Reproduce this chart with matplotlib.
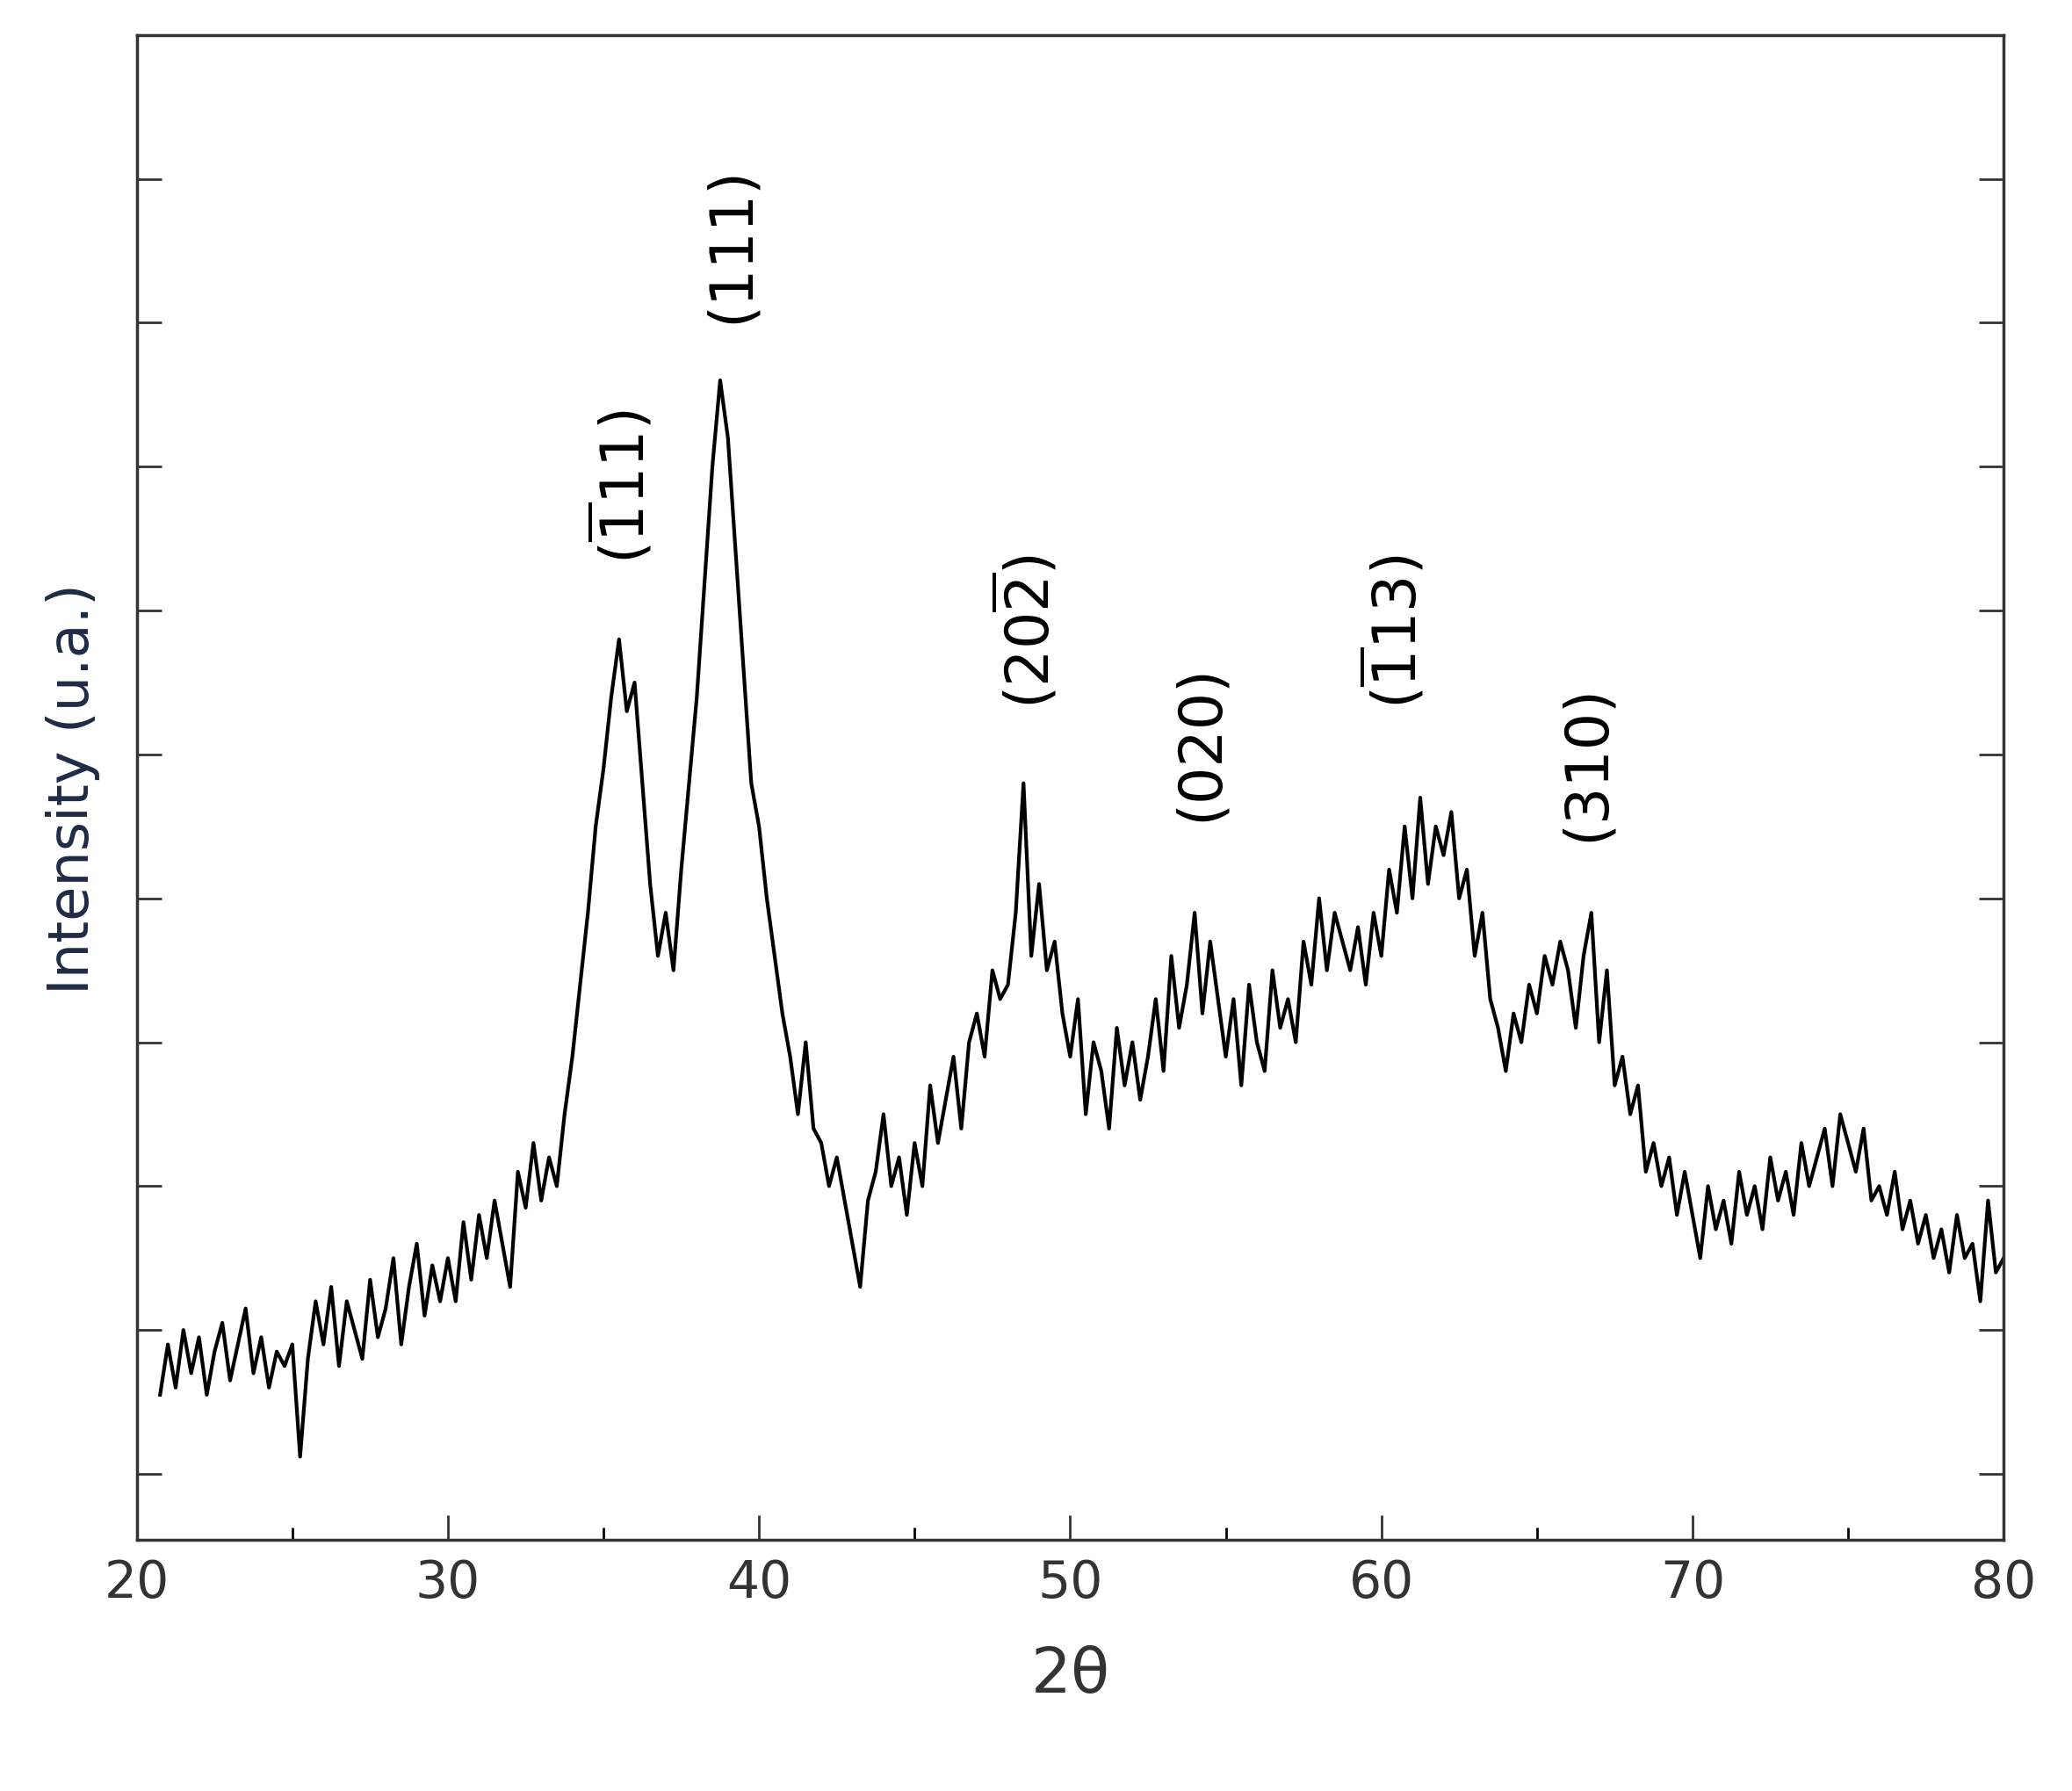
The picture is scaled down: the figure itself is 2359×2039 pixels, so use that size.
import numpy as np
import matplotlib
matplotlib.use('Agg')
import matplotlib.pyplot as plt

plt.rcParams['mathtext.fontset'] = 'dejavusans'

# 2theta grid, 0.25 deg step, and intensity (arb. units)
two_theta = np.arange(20.75, 80.01, 0.25)
intensity = [
    1.55,
    1.9, 1.6, 2.0, 1.7,   1.95, 1.55, 1.85, 2.05,  1.65, 1.9, 2.15, 1.7,
    1.95, 1.6, 1.85, 1.75, 1.9, 1.12, 1.8, 2.2,    1.9, 2.3, 1.75, 2.2,
    2.0, 1.8, 2.35, 1.95,  2.15, 2.5, 1.9, 2.3,    2.6, 2.1, 2.45, 2.2,
    2.5, 2.2, 2.75, 2.35,  2.8, 2.5, 2.9, 2.6,     2.3, 3.1, 2.85, 3.3,
    2.9, 3.2, 3.0, 3.5,    3.9, 4.4, 4.9, 5.5,     5.9, 6.4, 6.8, 6.3,
    6.5, 5.8, 5.1, 4.6,    4.9, 4.5, 5.2, 5.8,     6.4, 7.2, 8.0, 8.6,
    8.2, 7.4, 6.6, 5.8,    5.5, 5.0, 4.6, 4.2,     3.9, 3.5, 4.0, 3.4,
    3.3, 3.0, 3.2, 2.9,    2.6, 2.3, 2.9, 3.1,     3.5, 3.0, 3.2, 2.8,
    3.3, 3.0, 3.7, 3.3,    3.6, 3.9, 3.4, 4.0,     4.2, 3.9, 4.5, 4.3,
    4.4, 4.9, 5.8, 4.6,    5.1, 4.5, 4.7, 4.2,     3.9, 4.3, 3.5, 4.0,
    3.8, 3.4, 4.1, 3.7,    4.0, 3.6, 3.9, 4.3,     3.8, 4.6, 4.1, 4.4,
    4.9, 4.2, 4.7, 4.3,    3.9, 4.3, 3.7, 4.4,     4.0, 3.8, 4.5, 4.1,
    4.3, 4.0, 4.7, 4.4,    5.0, 4.5, 4.9, 4.7,     4.5, 4.8, 4.4, 4.9,
    4.6, 5.2, 4.9, 5.5,    5.0, 5.7, 5.1, 5.5,     5.3, 5.6, 5.0, 5.2,
    4.6, 4.9, 4.3, 4.1,    3.8, 4.2, 4.0, 4.4,     4.2, 4.6, 4.4, 4.7,
    4.5, 4.1, 4.6, 4.9,    4.0, 4.5, 3.7, 3.9,     3.5, 3.7, 3.1, 3.3,
    3.0, 3.2, 2.8, 3.1,    2.8, 2.5, 3.0, 2.7,     2.9, 2.6, 3.1, 2.8,
    3.0, 2.7, 3.2, 2.9,    3.1, 2.8, 3.3, 3.0,     3.2, 3.4, 3.0, 3.5,
    3.3, 3.1, 3.4, 2.9,    3.0, 2.8, 3.1, 2.7,     2.9, 2.6, 2.8, 2.5,
    2.7, 2.4, 2.8, 2.5,    2.6, 2.2, 2.9, 2.4,
    2.5,
]

# peak labels: text, x, bottom y
peak_labels = [r'($\overline{1}$11)', '(111)', r'(20$\overline{2}$)', '(020)', r'($\overline{1}$13)', '(310)']
peak_x = [35.6, 39.1, 48.6, 54.2, 60.4, 66.6]
peak_y = [7.33, 9.0, 6.32, 5.54, 6.32, 5.4]

fig = plt.figure(figsize=(23.59, 20.4), dpi=100)
ax = fig.add_axes([0.066, 0.14, 0.901, 0.84])
ax.plot(two_theta, intensity, color='black', lw=3)

for lab, px, py in zip(peak_labels, peak_x, peak_y):
    ax.text(px, py, lab, rotation=90, ha='center', va='bottom', fontsize=48)

ax.set_xlim(20, 80)
ax.set_ylim(0.54, 11.0)
ax.set_xticks(range(20, 81, 10))
ax.set_xticks(range(25, 80, 10), minor=True)
ax.set_yticks(range(1, 11))
ax.set_yticklabels([])
ax.tick_params(axis='both', which='both', direction='in', width=2, right=True)
ax.tick_params(axis='both', which='major', length=20, labelsize=42, colors='#333333', pad=14)
ax.tick_params(axis='x', which='minor', length=10)
for s in ax.spines.values():
    s.set_linewidth(2.5)
    s.set_color('#333333')

ax.set_xlabel('2θ', fontsize=52, color='#333333', labelpad=30)
ax.set_ylabel('Intensity (u.a.)', fontsize=46, color='#1f2a44', labelpad=16)

fig.savefig('out.png', dpi=100)
